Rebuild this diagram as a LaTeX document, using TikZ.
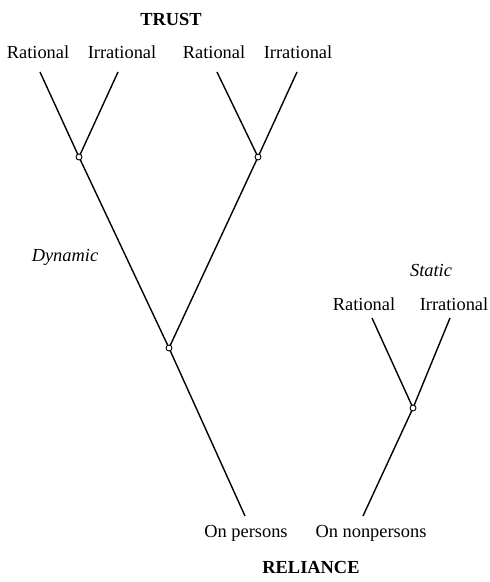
\documentclass[tikz,border=0pt]{standalone}
\usepackage{fontspec}
\setmainfont{Liberation Serif}
\begin{document}
\begin{tikzpicture}[x=1pt,y=-1pt,
  lbl/.style={font=\fontsize{18.4}{21}\selectfont, inner sep=0pt},
  ttl/.style={font=\fontsize{18.4}{21}\selectfont\bfseries, inner sep=0pt},
  itl/.style={font=\fontsize{18.4}{21}\selectfont\itshape, inner sep=0pt},
  branch/.style={line width=1.4pt},
  junc/.style={circle, draw, fill=white, line width=0.9pt, inner sep=0pt, minimum size=6pt}]
\useasboundingbox (0,0) rectangle (490,582);
% titles
\node[ttl] (trust) at (171,19) {TRUST};
\node[ttl] (reliance) at (311,567) {RELIANCE};
\node[itl] (dyn) at (65,257) {Dynamic};
\node[itl] (stat) at (431,270) {Static};
% top labels
\node[lbl] (r1) at (38,52) {Rational};
\node[lbl] (i1) at (122,52) {Irrational};
\node[lbl] (r2) at (214,52) {Rational};
\node[lbl] (i2) at (298,52) {Irrational};
\node[lbl] (r3) at (364,304) {Rational};
\node[lbl] (i3) at (454,304) {Irrational};
\node[lbl] (op) at (246,533) {On persons};
\node[lbl] (onp) at (371,533) {On nonpersons};
% line ends
\coordinate (a1) at (40,72);
\coordinate (b1) at (118,72);
\coordinate (a2) at (217,72);
\coordinate (b2) at (297,72);
\coordinate (a3) at (372,318);
\coordinate (b3) at (450,318);
\coordinate (e1) at (245,516);
\coordinate (e2) at (363,516);
% junctions
\coordinate (j1) at (79,157);
\coordinate (j2) at (258,157);
\coordinate (j3) at (169,348);
\coordinate (j4) at (413,408);
\draw[branch] (a1) -- (j1) -- (j3) -- (e1);
\draw[branch] (b1) -- (j1);
\draw[branch] (a2) -- (j2) -- (j3);
\draw[branch] (b2) -- (j2);
\draw[branch] (a3) -- (j4) -- (e2);
\draw[branch] (b3) -- (j4);
\node[junc] at (j1) {};
\node[junc] at (j2) {};
\node[junc] at (j3) {};
\node[junc] at (j4) {};
\end{tikzpicture}
\end{document}
